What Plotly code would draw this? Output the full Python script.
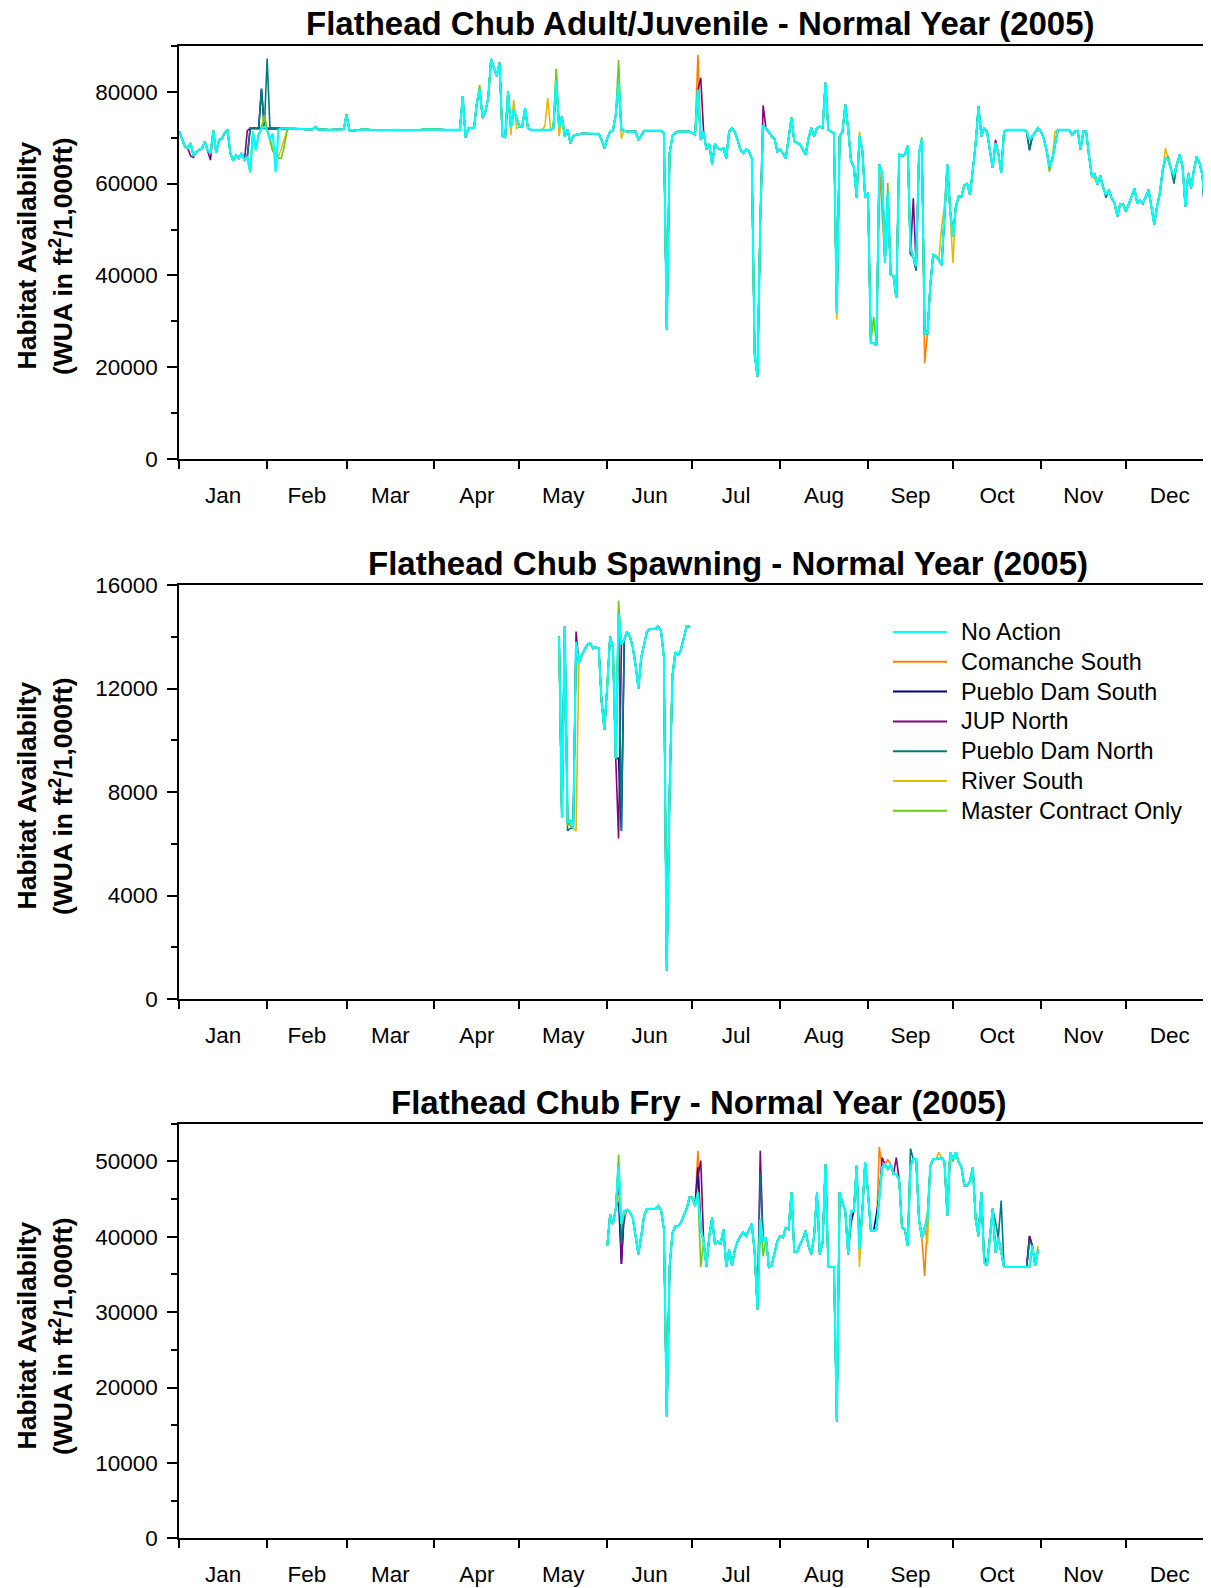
import plotly.graph_objects as go

# The page body adds an 8 px margin, so the figure is laid out in
# reference-pixel coordinates shifted by OFF.
OFF = 8
FW, FH = 1203, 1580
FONT = "Liberation Sans, Arial, Helvetica, sans-serif"


def px(x):
    return (x - OFF) / FW


def py(y):
    return 1 - (y - OFF) / FH


MONTHS = ["Jan", "Feb", "Mar", "Apr", "May", "Jun", "Jul", "Aug", "Sep", "Oct", "Nov", "Dec"]
MONTH_START = [0, 31, 59, 90, 120, 151, 181, 212, 243, 273, 304, 334, 365]

SERIES = ["No Action", "Comanche South", "Pueblo Dam South", "JUP North",
          "Pueblo Dam North", "River South", "Master Contract Only"]
COLORS = {
    "No Action": "#00FFFF",
    "Comanche South": "#FF8000",
    "Pueblo Dam South": "#000080",
    "JUP North": "#800080",
    "Pueblo Dam North": "#007B80",
    "River South": "#E6B800",
    "Master Contract Only": "#66CC11",
}

# ---------------- Adult/Juvenile (day of year, 0 = Jan 1) ----------------
adult_day = (list(range(0, 40))
             + [42, 45, 47, 48, 49, 53, 57, 58, 59, 60, 61, 65, 70, 76, 82, 88, 94, 99]
             + list(range(100, 365)))
adult_no_action = [
    # 0-39
    71300, 69500, 68000, 67700, 68800, 66000, 66900, 67300, 67700, 69100,
    67300, 66600, 71500, 66700, 69500, 69800, 71000, 71700, 66600, 65000,
    66200, 65500, 66600, 65100, 65800, 62500, 71300, 67300, 70600, 72000,
    72400, 71700, 69500, 70900, 62500, 71700, 72000, 72000, 72000, 72000,
    # sparse Feb-Apr
    71900, 71800, 71800, 72300, 71800, 71700, 71800, 71800, 75000, 71600,
    71500, 71800, 71600, 71700, 71600, 71800, 71700, 71700,
    # 100-364
    79000, 70100, 72100, 72100, 72100, 77600, 80500, 74300, 75700, 78600,
    87100, 85200, 83400, 86300, 70400, 70100, 80100, 72100, 76100, 74300,
    72400, 72400, 76400, 72100, 71700, 71700, 71700, 71700, 71700, 71700,
    71800, 71700, 72100, 82400, 72400, 74500, 70300, 71700, 68800, 70400,
    70600, 70800, 70900, 70900, 70900, 70900, 70900, 70900, 70800, 69500,
    67700, 69800, 71300, 71500, 75000, 81900, 71700, 71500, 71300, 71300,
    71300, 71300, 69500, 70600, 71500, 71500, 71500, 71500, 71500, 71500,
    71500, 71000, 28200, 66600, 70400, 71000, 71300, 71300, 71300, 71300,
    71300, 71000, 70600, 80400, 69500, 71300, 67400, 68600, 64100, 68600,
    67700, 67400, 67700, 65500, 71300, 72100, 71300, 69500, 67400, 66600,
    67400, 67000, 65500, 23100, 18000, 52000, 72400, 72100, 71300, 70300,
    69800, 67000, 67400, 66600, 65500, 69500, 74300, 69200, 68800, 68500,
    67400, 66300, 69800, 72100, 70300, 72100, 72400, 72100, 81900, 71700,
    71300, 71000, 31800, 70300, 71300, 77200, 72000, 65000, 63600, 57000,
    70300, 67300, 57000, 58000, 25300, 25300, 24900, 64100, 62300, 42700,
    58000, 40200, 39900, 35100, 66300, 66000, 66300, 68200, 46000, 44000,
    42000, 66600, 69500, 27400, 27400, 38000, 44500, 44200, 43400, 42300,
    53000, 64100, 54200, 48400, 55000, 57200, 57200, 59700, 60000, 57600,
    63000, 68800, 76800, 70300, 72100, 71300, 67300, 63400, 68800, 66600,
    62300, 71300, 71700, 71700, 71700, 71700, 71700, 71700, 71700, 71300,
    69500, 70300, 71300, 72100, 71300, 69900, 67300, 63700, 65200, 68800,
    71700, 71700, 71700, 71700, 71700, 70600, 71300, 71500, 67400, 71300,
    71300, 66000, 61600, 62000, 59800, 61700, 59000, 57600, 58600, 56800,
    55700, 52900, 55600, 55600, 54000, 55400, 57200, 59000, 55700, 56400,
    55700, 57200, 58600, 55000, 51100, 55000, 57900, 63000, 65500, 65200,
    63000, 61900, 64400, 66300, 63700, 55000, 62300, 59000, 63000, 65900,
    64400, 61900, 54200, 57200, 57200,
]
# other alternatives: days where they differ from No Action
adult_comanche_south = {32: 72000, 33: 72000, 34: 72000, 35: 72000,
                        183: 88000, 248: 53600, 263: 20900}
adult_pueblo_dam_south = {25: 72000, 26: 72000, 27: 72000, 28: 72000, 29: 80600, 30: 72000,
                          31: 72000, 32: 72000, 33: 72000, 34: 72000, 35: 72000,
                          183: 80000, 260: 41100, 300: 67300, 362: 51600}
adult_jup_north = {4: 66000, 5: 65700, 10: 66800, 11: 65100, 24: 71500, 25: 72000,
                   26: 72000, 27: 72000, 28: 72000, 32: 72000, 33: 72000, 34: 72000,
                   35: 72000, 184: 83000, 206: 77000, 258: 44600, 259: 56800,
                   288: 69500, 362: 51600}
adult_pueblo_dam_north = {25: 72000, 26: 72000, 27: 72000, 28: 72000, 29: 80600, 30: 72000,
                          31: 87200, 32: 72000, 33: 72000, 34: 72000, 35: 72000,
                          258: 44600, 260: 41100, 300: 67300, 327: 56900, 351: 60000,
                          362: 52500}
adult_river_south = {30: 74500, 32: 70000, 33: 67000, 34: 66500, 35: 66000, 36: 67500,
                     37: 69500, 38: 71500, 106: 80000, 117: 70500, 118: 78200, 119: 72000,
                     129: 72500, 130: 78600, 131: 72000, 133: 85000, 134: 70300,
                     156: 69800, 232: 30400, 240: 71300, 269: 50700, 270: 55000,
                     273: 42700, 309: 71300, 323: 61000, 346: 58500, 348: 67700}
adult_master_contract = {30: 75000, 32: 69500, 33: 67000, 34: 66500, 35: 65500, 36: 65500,
                         37: 68000, 38: 71500, 106: 81500, 133: 85000, 155: 86900,
                         245: 31000, 250: 60100, 262: 70100, 307: 62600, 349: 65900}

# ---------------- Spawning ----------------
spawn_day = list(range(134, 181))
spawn_no_action = [
    14000, 7000, 14400, 6850, 6900, 6600, 13800, 13000, 13300, 13500,
    13700, 13750, 13550, 13600, 13550, 11500, 10400, 12100, 14000, 13600,
    9300, 14900, 13700, 13900, 14200, 14000, 13600, 12900, 12000, 13200,
    13700, 14200, 14300, 14300, 14300, 14400, 14200, 13200, 1100, 8000,
    12500, 13400, 13300, 13500, 13900, 14400, 14400,
]
spawn_comanche_south = {138: 6700}
spawn_pueblo_dam_south = {155: 9300, 156: 6500}
spawn_jup_north = {140: 14200, 155: 6200}
spawn_pueblo_dam_north = {137: 6500, 138: 6600, 156: 6500}
spawn_river_south = {140: 6500, 141: 13000}
spawn_master_contract = {137: 6700, 155: 15400}

# ---------------- Fry ----------------
fry_day = list(range(151, 304))
fry_no_action = [
    38800, 42900, 41700, 43700, 49400, 41700, 43400, 43600, 43200, 42500,
    40100, 37700, 40100, 42800, 43700, 43700, 43700, 43700, 44100, 43500,
    41000, 16200, 36000, 40500, 41400, 41400, 41900, 42800, 43700, 45200,
    45200, 44100, 45900, 41000, 39400, 36000, 40100, 42500, 39000, 39400,
    39000, 41000, 36000, 38300, 36200, 38200, 39400, 40100, 40600, 40100,
    41000, 41700, 38000, 30400, 42300, 39400, 39900, 36000, 36200, 38000,
    39400, 40100, 39900, 41200, 41000, 45900, 38000, 38000, 39000, 39700,
    40800, 38800, 37700, 40100, 45900, 37700, 39200, 49600, 36000, 36000,
    36000, 15500, 45900, 44500, 43400, 37700, 43400, 43400, 49400, 38300,
    43400, 49900, 45900, 40800, 40800, 41000, 45400, 49200, 49600, 49000,
    49600, 48300, 48300, 47600, 41200, 41000, 38800, 49400, 50300, 50300,
    42300, 39900, 41200, 42100, 49400, 50300, 50300, 50400, 50500, 49900,
    42800, 51200, 50300, 51200, 49900, 49200, 46800, 46800, 47400, 49200,
    42300, 40100, 45900, 36600, 36200, 39700, 43700, 37900, 39900, 38000,
    36000, 36000, 36000, 36000, 36000, 36000, 36000, 36000, 36000, 36000,
    38800, 36200, 38300,
]
fry_comanche_south = {155: 46000, 157: 42000, 183: 51400, 247: 51900, 250: 50200, 263: 34800}
fry_pueblo_dam_south = {155: 45000, 156: 36400, 183: 49200, 237: 41800, 246: 43000, 300: 40100}
fry_jup_north = {156: 36400, 183: 48000, 184: 50100, 185: 39600, 205: 51400, 248: 50500,
                 253: 50500, 284: 37500, 300: 40100}
fry_pueblo_dam_north = {156: 39000, 205: 48300, 258: 51700, 288: 42000, 290: 44800, 300: 39500}
fry_river_south = {155: 45500, 240: 36000, 264: 39000, 268: 51200, 303: 38800}
fry_master_contract = {155: 50900, 184: 36000, 206: 37400, 264: 43200, 273: 50000}

PANELS = [
    dict(title="Flathead Chub Adult/Juvenile - Normal Year (2005)",
         day=adult_day, base=adult_no_action,
         alts={"Comanche South": adult_comanche_south, "Pueblo Dam South": adult_pueblo_dam_south,
               "JUP North": adult_jup_north, "Pueblo Dam North": adult_pueblo_dam_north,
               "River South": adult_river_south, "Master Contract Only": adult_master_contract},
         yrange=[0, 90000], ytick=20000, yminor=10000,
         top=45.7, bottom=459.3, title_xy=(700, 23), label_y=256),
    dict(title="Flathead Chub Spawning - Normal Year (2005)",
         day=spawn_day, base=spawn_no_action,
         alts={"Comanche South": spawn_comanche_south, "Pueblo Dam South": spawn_pueblo_dam_south,
               "JUP North": spawn_jup_north, "Pueblo Dam North": spawn_pueblo_dam_north,
               "River South": spawn_river_south, "Master Contract Only": spawn_master_contract},
         yrange=[0, 16000], ytick=4000, yminor=2000,
         top=585.0, bottom=999.0, title_xy=(728, 563), label_y=796),
    dict(title="Flathead Chub Fry - Normal Year (2005)",
         day=fry_day, base=fry_no_action,
         alts={"Comanche South": fry_comanche_south, "Pueblo Dam South": fry_pueblo_dam_south,
               "JUP North": fry_jup_north, "Pueblo Dam North": fry_pueblo_dam_north,
               "River South": fry_river_south, "Master Contract Only": fry_master_contract},
         yrange=[0, 55000], ytick=10000, yminor=5000,
         top=1123.7, bottom=1538.3, title_xy=(699, 1102), label_y=1336),
]


def with_overrides(days, base, overrides):
    pts = dict(zip(days, base))
    pts.update(overrides)
    ks = sorted(pts)
    return ks, [pts[k] for k in ks]


X_LEFT, X_RIGHT = 179.3, 1210.0
PX_PER_DAY = 2.834
XMAX = (X_RIGHT - X_LEFT) / PX_PER_DAY
month_mid = [(MONTH_START[i] + MONTH_START[i + 1]) / 2 for i in range(12)]

TICK_SIZE = 22.5
TITLE_SIZE = 33
YLABEL_SIZE = 26.5
LEGEND_SIZE = 23.4

fig = go.Figure()
draw_order = SERIES[1:] + SERIES[:1]

for p, panel in enumerate(PANELS):
    suffix = "" if p == 0 else str(p + 1)
    for name in draw_order:
        if name == "No Action":
            xs, ys = panel["day"], panel["base"]
        else:
            xs, ys = with_overrides(panel["day"], panel["base"], panel["alts"][name])
        fig.add_trace(go.Scatter(
            x=xs, y=ys, mode="lines", name=name,
            line=dict(color=COLORS[name], width=2.2 if name == "No Action" else 1.6),
            xaxis="x" + suffix, yaxis="y" + suffix,
            legendgroup=name, showlegend=False,
            hoverinfo="skip",
        ))

layout = dict(
    width=FW, height=FH, template="none",
    paper_bgcolor="white", plot_bgcolor="white",
    margin=dict(l=0, r=0, t=0, b=0),
    font=dict(family=FONT, color="black", size=TICK_SIZE),
    showlegend=False,
)

annotations = []
shapes = []
for p, panel in enumerate(PANELS):
    suffix = "" if p == 0 else str(p + 1)
    ydom = [py(panel["bottom"]), py(panel["top"])]
    layout["xaxis" + suffix] = dict(
        domain=[px(X_LEFT), px(X_RIGHT)], range=[0, XMAX], anchor="y" + suffix,
        showline=True, linecolor="black", linewidth=2, mirror=True,
        showgrid=False, zeroline=False, automargin=False,
        tickmode="array", tickvals=month_mid, ticktext=MONTHS,
        ticks="outside", ticklen=15, tickcolor="rgba(0,0,0,0)",
        tickfont=dict(family=FONT, size=TICK_SIZE, color="black"),
        minor=dict(tickmode="array", tickvals=MONTH_START[:-1], ticks="outside",
                   ticklen=8, tickwidth=1.5, tickcolor="black", showgrid=False),
    )
    layout["yaxis" + suffix] = dict(
        domain=ydom, range=panel["yrange"], anchor="x" + suffix,
        showline=True, linecolor="black", linewidth=2, mirror=False,
        showgrid=False, zeroline=False, automargin=False,
        tickmode="linear", tick0=0, dtick=panel["ytick"], tickformat="d",
        ticks="outside", ticklen=10, tickwidth=1.5, tickcolor="black",
        ticklabelstandoff=5,
        tickfont=dict(family=FONT, size=TICK_SIZE, color="black"),
        minor=dict(tickmode="linear", tick0=0, dtick=panel["yminor"], ticks="outside",
                   ticklen=6, tickwidth=1.5, tickcolor="black", showgrid=False),
    )
    shapes.append(dict(type="line", xref="paper", yref="paper",
                       x0=px(X_RIGHT), x1=px(X_RIGHT), y0=ydom[0], y1=ydom[1],
                       line=dict(color="#808080", width=1.5)))
    tx, ty = panel["title_xy"]
    annotations.append(dict(text=panel["title"], xref="paper", yref="paper",
                            x=px(tx), y=py(ty), xanchor="center", yanchor="middle",
                            showarrow=False,
                            font=dict(family=FONT, size=TITLE_SIZE, color="black", weight="bold")))
    annotations.append(dict(text="Habitat Availabilty", xref="paper", yref="paper",
                            x=px(26.5), y=py(panel["label_y"]), xanchor="center",
                            yanchor="middle", textangle=-90, showarrow=False,
                            font=dict(family=FONT, size=YLABEL_SIZE, color="black", weight="bold")))
    annotations.append(dict(text="(WUA in ft<sup>2</sup>/1,000ft)", xref="paper", yref="paper",
                            x=px(61), y=py(panel["label_y"]), xanchor="center",
                            yanchor="middle", textangle=-90, showarrow=False,
                            font=dict(family=FONT, size=YLABEL_SIZE, color="black", weight="bold")))

# legend box inside the spawning panel
LEG_LINE_X0, LEG_LINE_X1, LEG_TEXT_X = 893, 947, 959
LEG_Y0, LEG_DY = 632, 29.8
for i, name in enumerate(SERIES):
    yy = LEG_Y0 + i * LEG_DY
    shapes.append(dict(type="line", xref="paper", yref="paper",
                       x0=px(LEG_LINE_X0), x1=px(LEG_LINE_X1), y0=py(yy), y1=py(yy),
                       line=dict(color=COLORS[name], width=2)))
    annotations.append(dict(text=name, xref="paper", yref="paper",
                            x=px(LEG_TEXT_X), y=py(yy), xanchor="left", yanchor="middle",
                            showarrow=False,
                            font=dict(family=FONT, size=LEGEND_SIZE, color="black")))

layout["annotations"] = annotations
layout["shapes"] = shapes
fig.update_layout(**layout)
fig.write_html("out.html")
